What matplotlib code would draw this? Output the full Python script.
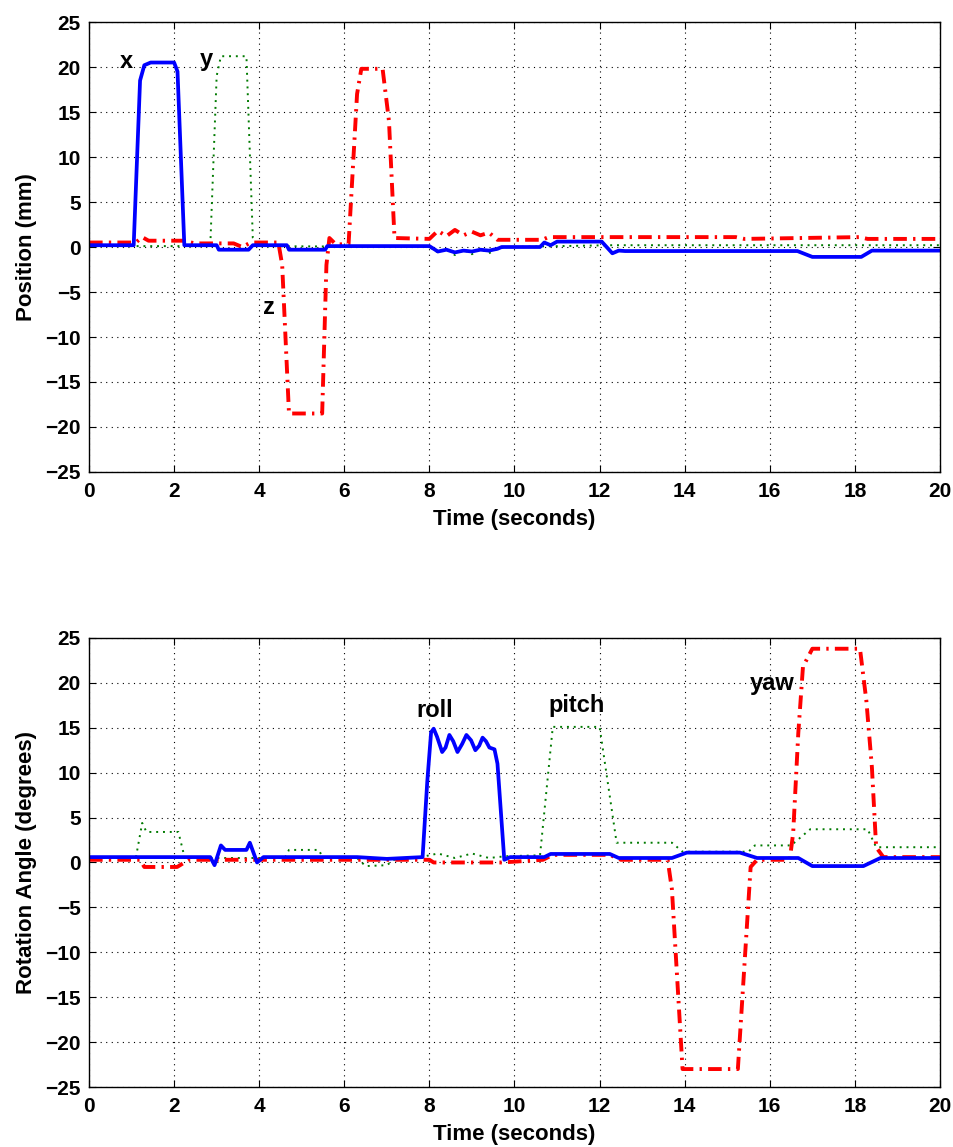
import numpy as np
import matplotlib
matplotlib.use("Agg")
import matplotlib.pyplot as plt

plt.rcParams['font.family'] = ['Liberation Sans', 'DejaVu Sans']
plt.rcParams['font.weight'] = 'bold'

# ---- top panel: position (mm) ----
x_t = [0, 1.05, 1.2, 1.3, 1.45, 2.0, 2.08, 2.24, 3.0, 3.05, 3.75, 3.85, 4.65, 4.7, 5.55, 5.6, 8.0,
       8.2, 8.4, 8.6, 8.8, 9.0, 9.2, 9.4, 9.6, 9.7, 10.6, 10.7, 10.85, 11.0, 12.05, 12.3,
       12.45, 12.6, 16.65, 17.0, 18.15, 18.4, 20]
x_v = [0.2, 0.2, 18.5, 20.2, 20.5, 20.5, 19.5, 0.2, 0.2, -0.3, -0.3, 0.2, 0.2, -0.3, -0.3, 0.1, 0.1,
       -0.5, -0.3, -0.6, -0.4, -0.5, -0.3, -0.4, -0.2, 0.0, 0.0, 0.5, 0.2, 0.6, 0.6, -0.7,
       -0.4, -0.45, -0.45, -1.1, -1.1, -0.4, -0.4]

y_t = [0, 2.85, 3.0, 3.1, 3.7, 3.85, 4.0, 8.0, 8.2, 8.4, 8.6, 8.8, 9.0, 9.2, 9.4, 9.6,
       9.8, 12.3, 20]
y_v = [0.1, 0.1, 19.0, 21.2, 21.2, 1.0, 0.1, 0.0, -0.6, -0.2, -0.9, -0.3, -0.8, -0.2,
       -0.7, -0.2, 0.0, 0.2, 0.2]

z_t = [0, 1.1, 1.25, 1.4, 2.2, 2.5, 3.4, 3.6, 3.8, 4.45, 4.54, 4.7, 5.48, 5.58, 5.65,
       5.8, 6.1, 6.3, 6.4, 6.9, 7.05, 7.18, 8.0, 8.2, 8.4, 8.6, 8.8, 9.0, 9.2, 9.4, 9.6,
       10.65, 10.8, 15.2, 15.4, 18.1, 18.3, 20]
z_v = [0.5, 0.5, 1.1, 0.7, 0.7, 0.4, 0.4, 0.0, 0.5, 0.5, -2.0, -18.5, -18.5, -2.0, 1.0,
       0.3, 0.3, 17.0, 19.8, 19.8, 14.0, 1.0, 0.9, 1.8, 1.2, 1.9, 1.3, 1.7, 1.3, 1.6, 0.8,
       0.8, 1.1, 1.1, 0.9, 1.1, 0.9, 0.9]

# ---- bottom panel: rotation angle (degrees) ----
roll_t = [0, 2.85, 2.95, 3.1, 3.2, 3.7, 3.78, 3.95, 4.1, 6.3, 7.0, 7.84, 7.95, 8.04, 8.1,
          8.18, 8.3, 8.38, 8.47, 8.56, 8.66, 8.77, 8.87, 8.98, 9.08, 9.17, 9.25, 9.33,
          9.41, 9.53, 9.6, 9.76, 9.9, 10.7, 10.85, 12.24, 12.45, 13.7,
          14.05, 15.3, 15.7, 16.67, 17.0, 18.2, 18.6, 20]
roll_v = [0.6, 0.6, -0.3, 1.9, 1.4, 1.4, 2.2, 0.0, 0.6, 0.6, 0.4, 0.6, 9.0, 14.5, 14.9,
          14.0, 12.3, 12.8, 14.2, 13.5, 12.3, 13.2, 14.2, 13.6, 12.5, 13.0, 13.9, 13.5,
          12.8, 12.6, 11.0, 0.3, 0.6, 0.6, 0.95, 0.95, 0.5, 0.5, 1.1, 1.1,
          0.5, 0.5, -0.4, -0.4, 0.5, 0.5]

pitch_t = [0, 1.1, 1.25, 1.35, 2.1, 2.25, 4.6, 4.7, 5.4, 5.5, 6.3, 6.5, 7.0, 7.2, 7.8,
           8.2, 8.6, 9.0, 9.4, 9.8, 10.6, 10.9, 12.0, 12.4, 13.7, 13.95, 15.5, 15.65,
           16.5, 16.6, 16.95, 18.3, 18.5, 20]
pitch_v = [0.5, 0.5, 4.4, 3.4, 3.4, 0.5, 0.5, 1.4, 1.4, 0.5, 0.5, -0.4, -0.3, 0.4, 0.6,
           1.0, 0.5, 1.0, 0.5, 0.7, 0.8, 15.1, 15.1, 2.2, 2.2, 1.2, 1.2, 1.9, 1.9, 2.3,
           3.7, 3.7, 1.7, 1.7]

yaw_t = [0, 1.2, 1.3, 2.07, 2.35, 8.0, 8.1, 9.7, 10.67, 10.9, 12.24, 12.5, 13.6, 13.7,
         13.95, 15.25, 15.55, 15.7, 16.47, 16.55, 16.67, 16.78, 17.0, 18.12, 18.27, 18.4,
         18.5, 18.67, 20]
yaw_v = [0.3, 0.3, -0.5, -0.5, 0.3, 0.3, 0.0, 0.0, 0.3, 0.85, 0.85, 0.3, 0.3, -3.0, -23.0,
         -23.0, -0.5, 0.3, 0.3, 3.3, 14.4, 21.8, 23.8, 23.8, 18.0, 10.6, 1.7, 0.6, 0.6]

pos_labels = [('x', 0.87, 20.6), ('y', 2.75, 20.8), ('z', 4.24, -6.7)]
rot_labels = [('roll', 8.12, 16.9), ('pitch', 11.46, 17.5), ('yaw', 16.05, 19.9)]

blue_style = dict(color='#0000ff', lw=2.7, linestyle='-', solid_joinstyle='round')
green_style = dict(color='#007a00', lw=1.4, linestyle=(0, (1, 2.5)))
red_style = dict(color='#ff0000', lw=2.8, linestyle=(0, (3.5, 1.6, 0.6, 1.6)))


def setup(ax, ylabel):
    ax.set_xlim(0, 20)
    ax.set_ylim(-25, 25)
    ax.set_xticks(np.arange(0, 21, 2))
    ax.set_yticks(np.arange(-25, 26, 5))
    ax.grid(True, color='black', linestyle=(0, (1, 4)), linewidth=0.8)
    ax.tick_params(direction='in', length=5, labelsize=15, top=True, right=True, pad=6)
    ax.tick_params(axis='x', pad=7)
    for s in ax.spines.values():
        s.set_linewidth(1.0)
    ax.set_xlabel('Time (seconds)', fontsize=16, fontweight='bold', labelpad=6)
    ax.set_ylabel(ylabel, fontsize=16, fontweight='bold', labelpad=6)


fig = plt.figure(figsize=(9.54, 11.47), dpi=100)
ax1 = fig.add_axes([0.0933, 0.5885, 0.892, 0.3923])
ax2 = fig.add_axes([0.0933, 0.0523, 0.892, 0.3915])

ax1.plot(y_t, y_v, **green_style)
ax1.plot(z_t, z_v, **red_style)
ax1.plot(x_t, x_v, **blue_style)
for txt, tx, ty in pos_labels:
    ax1.text(tx, ty, txt, fontsize=17, fontweight='bold', ha='center', va='center')
setup(ax1, 'Position (mm)')

ax2.plot(pitch_t, pitch_v, **green_style)
ax2.plot(yaw_t, yaw_v, **red_style)
ax2.plot(roll_t, roll_v, **blue_style)
for txt, tx, ty in rot_labels:
    ax2.text(tx, ty, txt, fontsize=17, fontweight='bold', ha='center', va='center')
setup(ax2, 'Rotation Angle (degrees)')

fig.savefig('out.png', dpi=100)
